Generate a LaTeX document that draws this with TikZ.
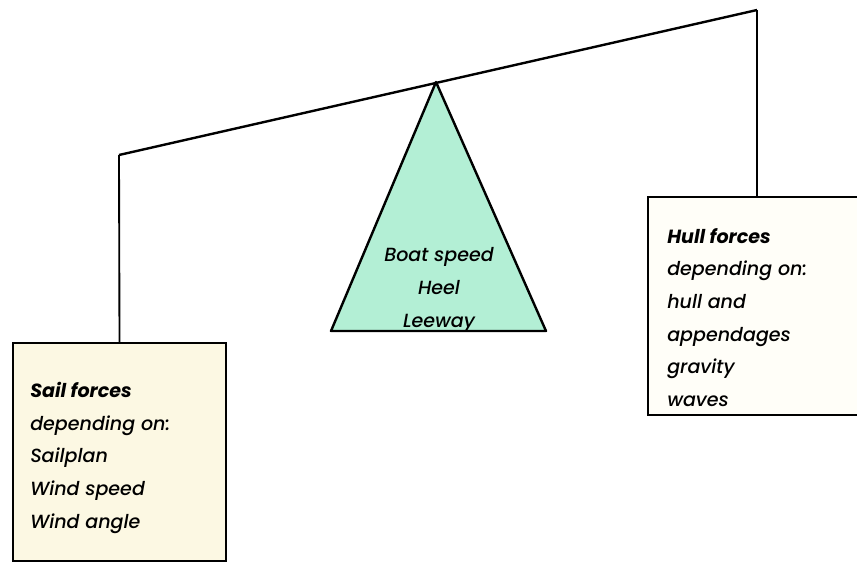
\documentclass[tikz,border=0pt]{standalone}
\usepackage{fontspec}
\setmainfont{Poppins}[ItalicFont={Poppins Medium Italic},BoldItalicFont={Poppins Bold Italic}]
\usepackage{tikz}
\usetikzlibrary{positioning}
\definecolor{mint}{HTML}{B3EFD5}
\definecolor{cream}{HTML}{FCF8E3}
\definecolor{paper}{HTML}{FFFEF8}

\begin{document}
\begin{tikzpicture}[x=0.75pt,y=-0.75pt,
    beam/.style={line width=1.8pt,line join=round},
    hanger/.style={line width=1.4pt},
    forcebox/.style={draw,line width=1.8pt,minimum height=163.5pt},
    forcetext/.style={align=left,inner sep=0pt,anchor=north west,font=\fontsize{14.3}{24.5}\selectfont\itshape},
    pivottext/.style={align=center,font=\fontsize{14.3}{24.5}\selectfont\itshape}]
  \useasboundingbox (0,0) rectangle (857,565);
  \clip (0,0) rectangle (857,565);

  \coordinate (beamL) at (119,155);
  \coordinate (beamR) at (757,10);
  \coordinate (apex)  at (436,82);

  \node[forcebox,fill=cream,minimum width=159.75pt] (sail) at (119.5,452) {};
  \node[forcebox,fill=paper,minimum width=172.5pt] (hull) at (763,306) {};

  \node[forcetext] (sailtext) at (30,382)
    {\textbf{Sail forces}\\depending on:\\Sailplan\\Wind speed\\Wind angle};
  \node[forcetext] (hulltext) at (667,228)
    {\textbf{Hull forces}\\depending on:\\hull and\\appendages\\gravity\\waves};

  \draw[beam,fill=mint] (apex) -- (331,331) -- (546,331) -- cycle;
  \node[pivottext] (pivot) at (439,290) {Boat speed\\Heel\\Leeway};

  \draw[beam] (beamL) -- (beamR);
  \draw[hanger] (sail.north) -- (beamL);
  \draw[hanger] (beamR |- hull.north) -- (beamR);
\end{tikzpicture}
\end{document}
